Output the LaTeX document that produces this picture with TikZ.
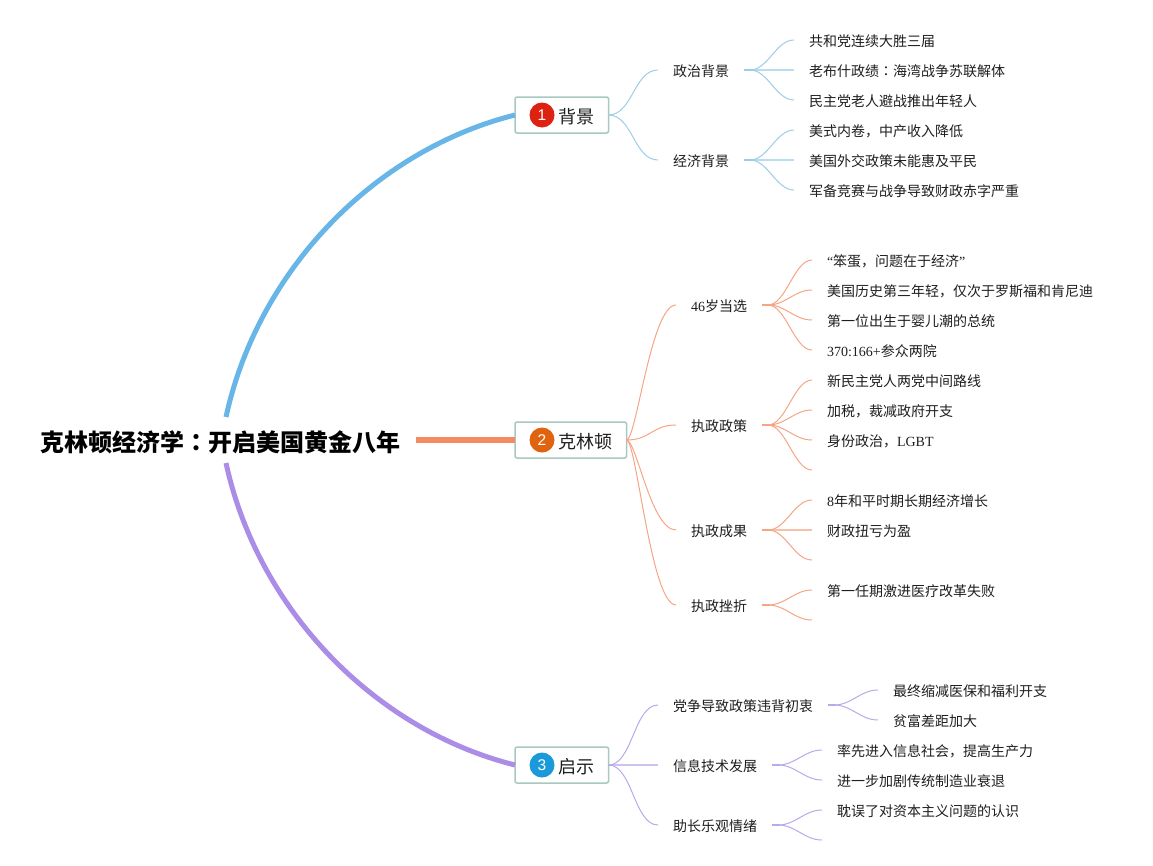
\documentclass[tikz,border=0pt]{standalone}
\usepackage{fontspec}
\setmainfont{Liberation Serif}
\setsansfont{Liberation Sans}
\newfontfamily\cj{Noto Sans CJK SC}
\newfontfamily\cjt{Noto Sans CJK TC}
\newcommand{\lat}[1]{{\rmfamily #1}}
\definecolor{txt}{HTML}{1E1E1E}
\definecolor{bluethick}{HTML}{68B6E8}
\definecolor{bluethin}{HTML}{9CCDE8}
\definecolor{orangethick}{HTML}{F58B60}
\definecolor{orangethin}{HTML}{F5A585}
\definecolor{purplethick}{HTML}{AB8DE8}
\definecolor{purplethin}{HTML}{BBA8E8}
\definecolor{boxline}{HTML}{A8C8C0}
\definecolor{badgea}{HTML}{DD2211}
\definecolor{badgeb}{HTML}{E0640F}
\definecolor{badgec}{HTML}{1A9AD9}
\tikzset{
  x=1pt,y=-1pt,
  rootnode/.style={font=\fontsize{24}{24}\cj\bfseries,text=black,inner xsep=15pt,inner ysep=0pt,outer sep=0pt,minimum height=46pt,text height=22.2pt,text depth=0pt},
  topic/.style={draw=boxline,line width=1.5pt,rounded corners=2pt,fill=white,anchor=west,minimum height=36pt,inner xsep=14.5pt,inner ysep=0pt,outer sep=0pt,text height=17.5pt,text depth=0pt,font=\fontsize{18}{18}\cj,text=txt},
  badge/.style={circle,minimum size=25pt,inner sep=0pt,text=white,font=\fontsize{15.5}{15.5}\sffamily},
  sub/.style={anchor=west,inner xsep=15pt,inner ysep=0pt,outer sep=0pt,minimum height=16pt,text height=12.5pt,text depth=0pt,font=\fontsize{14}{14}\cj,text=txt},
  thick main/.style={line width=5pt},
  stub/.style={line width=1.8pt},
  hair/.style={line width=1pt},
  flat/.style={line width=2pt,opacity=.7},
  bl/.style={hair,draw=bluethin},
  orr/.style={hair,draw=orangethin},
  pu/.style={hair,draw=purplethin},
}
\newcommand{\scv}[3]{\draw[#1] (#2) .. controls +(24,0) and +(-24,0) .. (#3);}
\newcommand{\sct}[3]{\draw[#1] (#2) .. controls +(10,0) and +(-25,0) .. (#3);}
\newcommand{\fan}[3]{\draw[#1] ([xshift=6pt]#2.east) .. controls +(18,0) and +(-18,0) .. (#3);}
\begin{document}
\begin{tikzpicture}
\useasboundingbox (0,0) rectangle (1153,865);
% root
\node[rootnode] (root) at (220.5,440) {克林顿经济学{\cjt ：}开启美国黄金八年};
% topics
\node[topic] (t1) at (515,115) {\hspace*{28.5pt}背景};
\node[topic] (t2) at (515,440) {\hspace*{28.5pt}克林顿};
\node[topic] (t3) at (515,765) {\hspace*{28.5pt}启示};
\node[badge,fill=badgea] (b1) at (542,115) {1};
\node[badge,fill=badgeb] (b2) at (542,440) {2};
\node[badge,fill=badgec] (b3) at (542,765) {3};
% level 2
\node[sub] (a1) at (658,70) {政治背景};
\node[sub] (a2) at (658,160) {经济背景};
\node[sub] (c1) at (676,305) {{\rmfamily 46}岁当选};
\node[sub] (c2) at (676,425) {执政政策};
\node[sub] (c3) at (676,530) {执政成果};
\node[sub] (c4) at (676,605) {执政挫折};
\node[sub] (e1) at (658,705) {党争导致政策违背初衷};
\node[sub] (e2) at (658,765) {信息技术发展};
\node[sub] (e3) at (658,825) {助长乐观情绪};
% leaves
\node[sub] (a11) at (794,40) {共和党连续大胜三届};
\node[sub] (a12) at (794,70) {老布什政绩{\cjt ：}海湾战争苏联解体};
\node[sub] (a13) at (794,100) {民主党老人避战推出年轻人};
\node[sub] (a21) at (794,130) {美式内卷，中产收入降低};
\node[sub] (a22) at (794,160) {美国外交政策未能惠及平民};
\node[sub] (a23) at (794,190) {军备竞赛与战争导致财政赤字严重};
\node[sub] (c11) at (812,260) {\lat{“}笨蛋，问题在于经济\lat{”}};
\node[sub] (c12) at (812,290) {美国历史第三年轻，仅次于罗斯福和肯尼迪};
\node[sub] (c13) at (812,320) {第一位出生于婴儿潮的总统};
\node[sub] (c14) at (812,350) {\lat{370:166+}参众两院};
\node[sub] (c21) at (812,380) {新民主党人两党中间路线};
\node[sub] (c22) at (812,410) {加税，裁减政府开支};
\node[sub] (c23) at (812,440) {身份政治，\lat{LGBT}};
\coordinate (c24) at (812,470);
\node[sub] (c31) at (812,500) {\lat{8}年和平时期长期经济增长};
\node[sub] (c32) at (812,530) {财政扭亏为盈};
\coordinate (c33) at (812,560);
\node[sub] (c41) at (812,590) {第一任期激进医疗改革失败};
\coordinate (c42) at (812,620);
\node[sub] (e11) at (878,690) {最终缩减医保和福利开支};
\node[sub] (e12) at (878,720) {贫富差距加大};
\node[sub] (e21) at (822,750) {率先进入信息社会，提高生产力};
\node[sub] (e22) at (822,780) {进一步加剧传统制造业衰退};
\node[sub] (e31) at (822,810) {耽误了对资本主义问题的认识};
\coordinate (e32) at (822,840);
% main branches
\draw[thick main,draw=bluethick] ([xshift=5.5pt]root.north) .. controls +(32,-147) and +(-140,35) .. (t1.west);
\draw[thick main,draw=purplethick] ([xshift=5.5pt]root.south) .. controls +(32,147) and +(-140,-35) .. (t3.west);
\draw[line width=6pt,draw=orangethick] (root.east) -- (t2.west);
% blue
\scv{bl}{t1.east}{a1.west}
\scv{bl}{t1.east}{a2.west}
\foreach \n in {a1,a2}{\draw[stub,draw=bluethin] (\n.east) -- ++(8,0);}
\fan{bl}{a1}{a11.west}\draw[flat,draw=bluethin] (a1.east) -- (a12.west);\fan{bl}{a1}{a13.west}
\fan{bl}{a2}{a21.west}\draw[flat,draw=bluethin] (a2.east) -- (a22.west);\fan{bl}{a2}{a23.west}
% orange
\sct{orr}{t2.east}{c1.west}
\scv{orr}{t2.east}{c2.west}
\sct{orr}{t2.east}{c3.west}
\sct{orr}{t2.east}{c4.west}
\foreach \n in {c1,c2,c3,c4}{\draw[stub,draw=orangethin] (\n.east) -- ++(8,0);}
\fan{orr}{c1}{c11.west}\fan{orr}{c1}{c12.west}\fan{orr}{c1}{c13.west}\fan{orr}{c1}{c14.west}
\fan{orr}{c2}{c21.west}\fan{orr}{c2}{c22.west}\fan{orr}{c2}{c23.west}\fan{orr}{c2}{c24}
\fan{orr}{c3}{c31.west}\draw[flat,draw=orangethin] (c3.east) -- (c32.west);\fan{orr}{c3}{c33}
\fan{orr}{c4}{c41.west}\fan{orr}{c4}{c42}
% purple
\scv{pu}{t3.east}{e1.west}
\draw[flat,draw=purplethin] (t3.east) -- (e2.west);
\scv{pu}{t3.east}{e3.west}
\foreach \n in {e1,e2,e3}{\draw[stub,draw=purplethin] (\n.east) -- ++(8,0);}
\fan{pu}{e1}{e11.west}\fan{pu}{e1}{e12.west}
\fan{pu}{e2}{e21.west}\fan{pu}{e2}{e22.west}
\fan{pu}{e3}{e31.west}\fan{pu}{e3}{e32}
\end{tikzpicture}
\end{document}
